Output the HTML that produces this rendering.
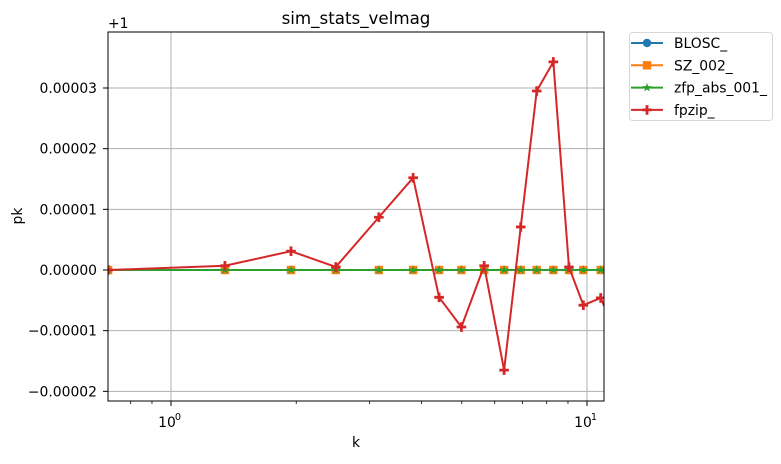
<!DOCTYPE html>
<html><head><meta charset="utf-8"><style>
body{margin:0;background:#fff;}
svg text{font-family:"DejaVu Sans","Liberation Sans",sans-serif;font-size:13.9px;fill:#000;}
</style></head><body>
<svg id="chart" width="781" height="459" xmlns="http://www.w3.org/2000/svg">
<defs><clipPath id="clip"><rect x="108" y="32" width="496" height="369"/></clipPath></defs>
<rect x="108" y="32" width="496" height="369" fill="#fff"/>
<g id="grid"></g>
<g id="series" clip-path="url(#clip)"></g>
<rect x="108" y="32" width="496" height="369" fill="none" stroke="#000" stroke-width="1"/>
<g id="ticks"></g>
<text x="356" y="24" text-anchor="middle" style="font-size:16.7px">sim_stats_velmag</text>
<text x="356" y="447" text-anchor="middle">k</text>
<text transform="translate(22,216) rotate(-90)" text-anchor="middle">pk</text>
<text x="108" y="28">+1</text>
<g>
<rect x="629.5" y="32.5" width="143" height="88" rx="3" fill="#fff" stroke="#ccc" stroke-width="0.8"/>
<g id="legend"></g>
</g>
</svg>
<script>
const kValues=[0.706,1.348,1.943,2.49,3.16,3.82,4.41,4.99,5.66,6.32,6.93,7.57,8.30,9.05,9.80,10.79,11.4];
const bloscValues=[0,0,0,0,0,0,0,0,0,0,0,0,0,0,0,0,0];
const szValues=[0,0,0,0,0,0,0,0,0,0,0,0,0,0,0,0,0];
const zfpValues=[0,0,0,0,0,0,0,0,0,0,0,0,0,0,0,0,0];
const fpzipValues=[0,0.07e-5,0.31e-5,0.05e-5,0.87e-5,1.52e-5,-0.45e-5,-0.94e-5,0.07e-5,-1.65e-5,0.71e-5,2.95e-5,3.43e-5,0.05e-5,-0.58e-5,-0.46e-5,-0.85e-5];
const yTicks=[-0.00002,-0.00001,0,0.00001,0.00002,0.00003];
const yTickLabels=["\u22120.00002","\u22120.00001","0.00000","0.00001","0.00002","0.00003"];
const xMajor=[1,10];
const xMajorLabels=["10","10"];
const xMinor=[0.8,0.9,2,3,4,5,6,7,8,9];

const NS="http://www.w3.org/2000/svg";
const X=k=>171+416*Math.log10(k);
const Y=v=>270-v*6.067e6;
function mk(tag,attrs,parent){const e=document.createElementNS(NS,tag);for(const a in attrs)e.setAttribute(a,attrs[a]);parent.appendChild(e);return e;}
const grid=document.getElementById('grid'),ticks=document.getElementById('ticks'),series=document.getElementById('series'),legend=document.getElementById('legend');

yTicks.forEach((t,i)=>{
 const y=Y(t);
 const g=mk('line',{x1:108,x2:604,y1:y,y2:y,stroke:'#b0b0b0','stroke-width':1},grid);
 
 
 mk('line',{x1:103,x2:108,y1:y,y2:y,stroke:'#000','stroke-width':1},ticks);
 const tx=mk('text',{x:97,y:y+5,'text-anchor':'end'},ticks);
 tx.textContent=yTickLabels[i];
 
 
});
xMajor.forEach((t,i)=>{
 const x=X(t);
 const g=mk('line',{x1:x,x2:x,y1:32,y2:401,stroke:'#b0b0b0','stroke-width':1},grid);
 
 
 mk('line',{x1:x,x2:x,y1:401,y2:406,stroke:'#000','stroke-width':1},ticks);
 const tx=mk('text',{x:x-4,y:427,'text-anchor':'middle'},ticks);
 tx.textContent=xMajorLabels[i];
 
 
 const sup=mk('text',{x:x+7,y:420,'text-anchor':'middle',style:'font-size:9.7px'},ticks);
 sup.textContent=String(Math.round(Math.log10(t)));
});
xMinor.forEach(t=>{const x=X(t);mk('line',{x1:x,x2:x,y1:401,y2:404,stroke:'#000','stroke-width':0.8},ticks);});

function marker(type,x,y,color,parent){
 if(type==='o')return mk('circle',{cx:x,cy:y,r:4.2,fill:color},parent);
 if(type==='s')return mk('rect',{x:x-4.2,y:y-4.2,width:8.4,height:8.4,fill:color},parent);
 if(type==='*')return mk('polygon',{points:[0,1,2,3,4,5,6,7,8,9].map(i=>{const r=i%2?1.9:4.8,a=-Math.PI/2+i*Math.PI/5;return (x+r*Math.cos(a))+','+(y+r*Math.sin(a));}).join(' '),fill:color},parent);
 return mk('path',{d:`M${x-4.8},${y}H${x+4.8}M${x},${y-4.8}V${y+4.8}`,stroke:color,'stroke-width':2.8},parent);
}
const defs=[
 {name:'BLOSC_',vals:bloscValues,color:'#1f77b4',m:'o',id:'series-blosc'},
 {name:'SZ_002_',vals:szValues,color:'#ff7f0e',m:'s',id:'series-sz'},
 {name:'zfp_abs_001_',vals:zfpValues,color:'#2ca02c',m:'*',id:'series-zfp'},
 {name:'fpzip_',vals:fpzipValues,color:'#d62728',m:'P',id:'series-fpzip'}
];
defs.forEach((s,si)=>{
 const g=mk('g',{},series);
 
 
 mk('polyline',{points:kValues.map((k,i)=>X(k)+','+Y(s.vals[i])).join(' '),fill:'none',stroke:s.color,'stroke-width':2,'stroke-linejoin':'round'},g);
 kValues.forEach((k,i)=>{const m=marker(s.m,X(k),Y(s.vals[i]),s.color,g);
  
  });
 const ly=43+22.3*si;
 const lg=mk('g',{},legend);
 
 
 mk('line',{x1:631,x2:663,y1:ly,y2:ly,stroke:s.color,'stroke-width':2},lg);
 marker(s.m,647,ly,s.color,lg);
 const t=mk('text',{x:674,y:ly+5},lg);t.textContent=s.name;
});
</script>
</body></html>
